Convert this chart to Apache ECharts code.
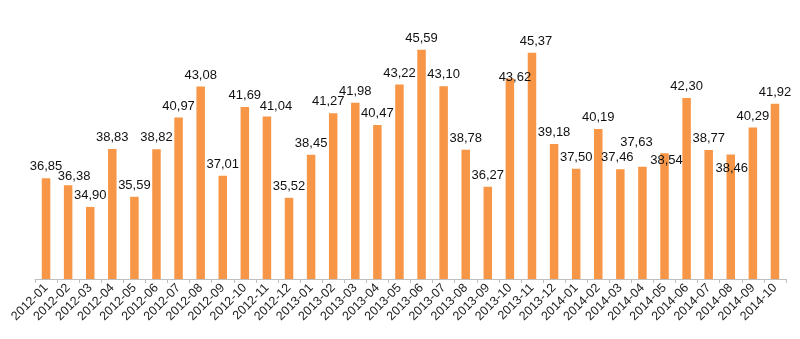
<!DOCTYPE html>
<html>
<head>
<meta charset="utf-8">
<script src="https://cdn.jsdelivr.net/npm/echarts@6/dist/echarts.min.js"></script>
<style>html,body{margin:0;padding:0;background:#fff}#c{width:800px;height:339px}</style>
</head>
<body>
<div id="c"></div>
<script>
const categories = ['2012-01','2012-02','2012-03','2012-04','2012-05','2012-06','2012-07','2012-08','2012-09','2012-10','2012-11','2012-12',
  '2013-01','2013-02','2013-03','2013-04','2013-05','2013-06','2013-07','2013-08','2013-09','2013-10','2013-11','2013-12',
  '2014-01','2014-02','2014-03','2014-04','2014-05','2014-06','2014-07','2014-08','2014-09','2014-10'];
const values = [36.85,36.38,34.90,38.83,35.59,38.82,40.97,43.08,37.01,41.69,41.04,35.52,
  38.45,41.27,41.98,40.47,43.22,45.59,43.10,38.78,36.27,43.62,45.37,39.18,
  37.50,40.19,37.46,37.63,38.54,42.30,38.77,38.46,40.29,41.92];

// label nudges (style only): index -> [dx, dy]
const labelNudges = {1:[6,3],10:[9,1],13:[-5,0],21:[5,10],22:[4,0],26:[-3,0],27:[-6,-13],28:[2,19],31:[1,25]};

const seriesData = values.map((v, i) => {
  const item = { value: v };
  if (labelNudges[i]) item.label = { offset: labelNudges[i] };
  return item;
});

const chart = echarts.init(document.getElementById('c'), null, { renderer: 'canvas' });
chart.setOption({
  animation: false,
  grid: { left: 35, right: 14, top: 43.6, bottom: 60, containLabel: false },
  xAxis: {
    type: 'category',
    data: categories,
    axisLine: { lineStyle: { color: '#bfbfbf', width: 1 } },
    axisTick: { show: true, length: 4, lineStyle: { color: '#bfbfbf' } },
    axisLabel: { rotate: 45, interval: 0, fontFamily: 'Liberation Sans, Arial, sans-serif', fontSize: 12.5, color: '#222', margin: 7 }
  },
  yAxis: {
    type: 'value', min: 30, max: 46,
    axisLine: { show: false }, axisTick: { show: false }, axisLabel: { show: false }, splitLine: { show: false }
  },
  series: [{
    type: 'bar',
    data: seriesData,
    barWidth: 8.5,
    itemStyle: { color: '#F79646' },
    label: {
      show: true, position: 'top', distance: 5,
      fontFamily: 'Liberation Sans, Arial, sans-serif', fontSize: 13, color: '#111',
      formatter: p => p.value.toFixed(2).replace('.', ',')
    }
  }]
});
</script>
</body>
</html>
